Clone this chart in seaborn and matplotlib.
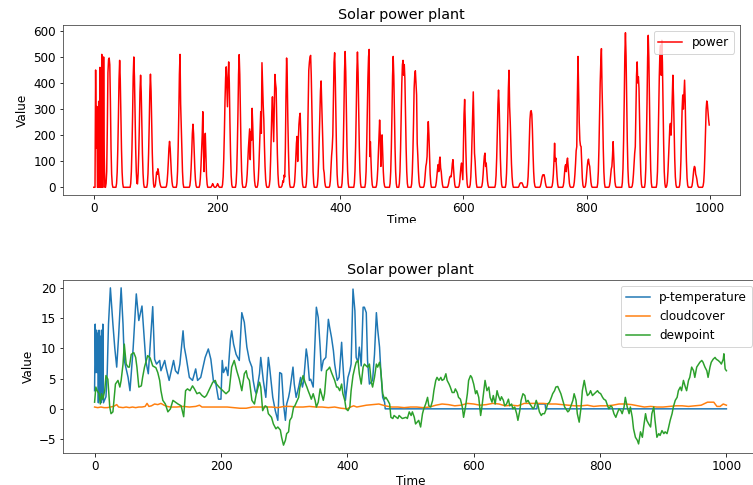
import numpy as np
import pandas as pd
import matplotlib
matplotlib.use("Agg")
import matplotlib.pyplot as plt
from matplotlib.patches import Rectangle
import seaborn as sns

# ---------------- data ----------------
# power: hourly values; each daylight segment = (start hour, values)
hump_start = [0, 20, 37, 60, 71, 87, 99, 118, 135, 156, 172, 191, 199, 209, 231, 247, 266,
              285, 305, 325, 345, 363, 383, 403, 423, 441, 459, 481, 496, 516, 536, 555,
              575, 593, 611, 630, 652, 669, 690, 704, 725, 744, 762, 779, 798, 818, 837,
              858, 874, 895, 914, 930, 951, 971, 989]
hump_values = [
    [0, 0, 0, 450, 150, 310, 0, 0, 330, 0, 460, 0, 0, 510, 0, 0, 500, 120, 0],
    [15, 60, 230, 440, 490, 496, 470, 330, 150, 50, 12],
    [15, 58, 146, 268, 414, 487, 414, 268, 146, 58, 15],
    [15, 60, 150, 275, 425, 500, 425, 275, 150, 60, 15],
    [13, 52, 129, 237, 366, 430, 366, 237, 129, 52, 13],
    [13, 52, 130, 239, 369, 434, 369, 239, 130, 52, 13],
    [2, 9, 35, 58, 50, 71, 60, 39, 21, 9, 2],
    [5, 21, 53, 97, 150, 176, 150, 97, 53, 21, 5],
    [15, 61, 153, 281, 434, 510, 320, 230, 153, 61, 15],
    [7, 29, 73, 133, 206, 242, 206, 133, 73, 29, 7],
    [9, 35, 80, 140, 200, 290, 150, 60, 150, 207, 120, 45, 12],
    [3, 8, 14, 8, 3],
    [3, 8, 14, 8, 3],
    [10, 40, 110, 210, 330, 420, 462, 380, 309, 420, 481, 400, 250, 130, 45, 10],
    [15, 61, 153, 280, 433, 509, 433, 280, 153, 61, 15],
    [5, 20, 50, 100, 150, 190, 224, 106, 214, 180, 303, 240, 150, 70, 25, 6],
    [8, 30, 80, 150, 230, 290, 207, 478, 400, 316, 260, 160, 80, 30, 8],
    [8, 30, 100, 200, 290, 347, 260, 175, 300, 433, 400, 379, 250, 130, 50, 12],
    [3, 10, 25, 20, 47, 40, 150, 350, 496, 420, 260, 140, 50, 12],
    [5, 20, 60, 120, 170, 195, 99, 180, 240, 270, 284, 200, 110, 45, 12],
    [15, 60, 170, 320, 449, 480, 500, 506, 430, 300, 160, 60, 15],
    [10, 40, 100, 190, 290, 370, 408, 320, 245, 150, 70, 55, 20, 5],
    [5, 25, 70, 120, 150, 200, 350, 480, 516, 420, 270, 140, 50, 12],
    [16, 63, 156, 287, 443, 521, 443, 287, 156, 63, 16],
    [16, 62, 156, 285, 441, 519, 441, 285, 156, 62, 16],
    [15, 60, 160, 290, 420, 500, 529, 118, 175, 100, 40, 10],
    [8, 30, 70, 130, 200, 258, 200, 80, 150, 201, 130, 60, 20, 5],
    [15, 60, 151, 276, 427, 502, 427, 276, 151, 60, 15],
    [15, 60, 150, 270, 400, 470, 487, 430, 471, 417, 280, 150, 60, 15],
    [13, 55, 135, 245, 380, 430, 447, 400, 354, 169, 120, 60, 20, 5],
    [5, 20, 50, 80, 93, 118, 200, 252, 200, 120, 50, 15],
    [5, 20, 45, 70, 87, 60, 100, 116, 74, 60, 30, 10],
    [5, 15, 30, 40, 42, 40, 60, 90, 106, 70, 35, 10],
    [5, 20, 50, 80, 93, 60, 29, 150, 280, 337, 250, 140, 60, 15],
    [10, 40, 100, 190, 290, 366, 250, 131, 100, 50, 15],
    [5, 20, 50, 90, 120, 131, 80, 93, 60, 25, 8],
    [11, 45, 112, 205, 317, 373, 317, 205, 112, 45, 11],
    [13, 54, 135, 250, 380, 449, 309, 250, 163, 90, 40, 12],
    [3, 10, 15, 17, 17, 17, 12, 5],
    [10, 40, 100, 180, 260, 290, 294, 280, 220, 130, 60, 20, 5],
    [5, 15, 30, 42, 48, 45, 48, 35, 18, 6],
    [5, 20, 50, 100, 169, 100, 112, 80, 40, 12],
    [5, 20, 50, 80, 87, 60, 100, 112, 80, 45, 15, 4],
    [5, 20, 50, 90, 140, 156, 350, 502, 380, 250, 180, 160, 156, 90, 35, 8],
    [5, 20, 50, 80, 100, 108, 90, 80, 50, 20, 5],
    [15, 60, 150, 270, 400, 480, 532, 385, 280, 150, 60, 15],
    [5, 20, 45, 70, 80, 120, 175, 120, 60, 20, 5],
    [18, 71, 178, 326, 504, 593, 504, 326, 178, 71, 18],
    [5, 20, 50, 90, 130, 156, 300, 430, 481, 400, 424, 380, 250, 130, 50, 12],
    [17, 70, 175, 321, 496, 583, 496, 321, 175, 70, 17],
    [15, 60, 160, 300, 430, 520, 545, 430, 564, 480, 320, 170, 60, 15],
    [5, 20, 60, 120, 190, 230, 245, 200, 258, 350, 430, 350, 220, 110, 40, 10],
    [8, 35, 100, 200, 300, 354, 300, 360, 411, 330, 200, 100, 35, 8],
    [5, 20, 45, 70, 80, 75, 50, 42, 30, 12, 3],
    [5, 20, 60, 130, 220, 300, 331, 320, 290, 260, 239],
]
n_hours = 1000

temperature = [
    (0, 3), (1, 14), (2, 6), (3, 13), (4, 6), (5, 12.5), (6, 1), (7, 13), (8, 2), (9, 12),
    (10, 1), (11, 13), (12, 1.5), (13, 14), (14, 1), (16, 1.5), (18, 2), (20, 6), (22, 14),
    (25, 20), (29, 14), (32, 10), (35, 6.9), (38, 12), (42, 20), (45, 14), (47, 8), (53, 5.2),
    (56, 3), (61, 10), (66, 19), (70, 14.6), (75, 17), (81, 8), (85, 5.8), (92, 16.9), (95, 8.2),
    (98, 7.4), (103, 8), (105, 6.3), (111, 8), (113, 6.9), (118, 4.7), (125, 8), (128, 6.3),
    (132, 5.8), (135, 7.4), (140, 12.9), (142, 10.2), (145, 8.5), (150, 5.2), (155, 4.7),
    (160, 6.6), (163, 4.7), (168, 5.2), (175, 8.5), (180, 9.9), (184, 8.2), (188, 4.7),
    (192, 4.1), (196, 1.6), (200, 1.6), (202, 8), (204, 6), (208, 6.9), (211, 5.5), (215, 11.5),
    (217, 12.9), (220, 10.7), (224, 9), (229, 8), (233, 15.9), (237, 14.3), (241, 10.2),
    (245, 8), (249, 6.9), (251, 4.7), (254, 3), (256, 2.5), (261, 5.8), (263, 8.5), (267, 4.7),
    (271, 1.9), (275, 8.5), (277, 6.9), (282, 1.9), (286, -0.3), (290, -1.9), (293, 6),
    (296, 5.8), (299, 0.8), (302, -1.9), (304, 0.8), (307, 1.9), (309, 3), (314, 6.9),
    (316, 4.1), (319, 1.9), (323, 3.6), (326, 5.2), (329, 3.6), (331, 4.7), (335, 9.9),
    (337, 8.5), (340, 4.7), (342, 4.9), (346, 3.6), (351, 16.8), (354, 15.1), (357, 10.2),
    (359, 6.3), (362, 8), (366, 8.5), (370, 14.8), (372, 13.5), (375, 11.8), (378, 9.6),
    (380, 7.4), (384, 4.7), (387, 5.2), (391, 11), (392, 9), (394, 5.8), (397, 1.4), (401, 5.2),
    (404, 6.3), (406, 7.4), (409, 19.8), (412, 16.2), (414, 8.5), (417, 7.7), (419, 10.2),
    (422, 7.1), (425, 16.8), (427, 16.8), (430, 15.9), (432, 8), (435, 4.1), (440, 4.7),
    (443, 9), (446, 15.9), (448, 13.2), (451, 10.2), (453, 6.3), (456, 1.9), (459, 1.1),
    (460, 0), (700, 0), (701, 0.8), (713, 0.8), (714, 0), (1000, 0),
]

cloudcover = [
    (0, 0.3), (5, 0.2), (10, 0.3), (15, 0.2), (20, 0.2), (25, 0.3), (30, 0.4), (35, 0.7),
    (38, 0.3), (45, 0.2), (50, 0.3), (55, 0.2), (60, 0.3), (65, 0.2), (70, 0.3), (75, 0.3),
    (80, 0.4), (83, 0.9), (86, 0.4), (90, 0.5), (95, 0.8), (100, 0.7), (105, 0.9), (110, 0.6),
    (115, 0.4), (120, 0.3), (130, 0.3), (140, 0.4), (150, 0.3), (160, 0.4), (166, 0.6),
    (170, 0.3), (180, 0.3), (190, 0.3), (200, 0.3), (210, 0.3), (220, 0.2), (230, 0.1),
    (240, 0.1), (250, 0.3), (260, 0.3), (270, 0.3), (280, 0.3), (290, 0.2), (300, 0.4),
    (310, 0.4), (320, 0.3), (330, 0.3), (340, 0.4), (350, 0.3), (360, 0.3), (370, 0.2),
    (380, 0.3), (390, 0.1), (400, 0.0), (405, 0.3), (410, 0.5), (415, 0.3), (420, 0.4),
    (430, 0.6), (440, 0.7), (450, 0.8), (460, 0.5), (470, 0.3), (480, 0.3), (490, 0.2),
    (500, 0.3), (510, 0.3), (520, 0.2), (530, 0.3), (540, 0.6), (550, 0.8), (560, 0.7),
    (570, 0.5), (580, 0.6), (590, 0.9), (600, 0.8), (610, 0.6), (620, 0.7), (630, 0.9),
    (640, 0.8), (650, 0.5), (660, 0.6), (670, 0.5), (680, 0.9), (690, 0.9), (700, 0.9),
    (710, 0.9), (720, 0.8), (730, 0.8), (740, 0.7), (750, 0.6), (760, 0.5), (770, 0.5),
    (780, 0.6), (790, 0.4), (800, 0.5), (810, 0.5), (820, 0.6), (830, 0.8), (840, 0.8),
    (850, 0.7), (860, 0.5), (870, 0.3), (880, 0.4), (890, 0.3), (900, 0.3), (910, 0.4),
    (920, 0.5), (930, 0.5), (940, 0.4), (950, 0.5), (960, 0.6), (970, 1.1), (980, 1.1),
    (985, 0.4), (990, 0.4), (995, 0.8), (1000, 0.6),
]

dewpoint = [
    (0, 1.1), (2, 3.6), (4, 3), (7, 2.5), (9, 0.8), (11, 2.5), (13, 1.6), (16, 3), (18, 5.5),
    (21, 4.9), (24, 0.3), (26, -0.8), (29, -0.5), (33, 4.1), (37, 4.7), (40, 3.6), (42, 4.7),
    (45, 7.4), (47, 10.7), (50, 7.4), (53, 6.9), (55, 6.9), (58, 9), (62, 9.3), (65, 8.5),
    (67, 6.9), (70, 3.6), (74, 3.8), (76, 5.2), (79, 6.9), (82, 8), (84, 8.8), (88, 8.4),
    (92, 7.1), (97, 6.8), (100, 6), (103, 4.7), (105, 3), (108, 1.4), (112, 0.8), (116, -0.5),
    (120, 0), (124, 1.4), (128, 1.1), (132, 0.8), (137, 0.5), (141, -1.3), (144, 3), (147, 3.3),
    (151, 3), (155, 3.8), (158, 3.3), (162, 2.5), (166, 2.7), (170, 2.2), (174, 1.9), (177, 2.2),
    (182, 3.3), (187, 4.4), (191, 4.7), (193, 4.1), (197, 3.6), (203, 3), (208, 2.5), (213, 3),
    (217, 6.9), (221, 8), (225, 6.3), (229, 4.9), (233, 3), (237, 5.8), (240, 6.3), (242, 5.2),
    (245, 4.7), (249, 1.4), (253, 0.8), (256, 2.5), (261, 4.4), (263, 3.6), (266, -0.3),
    (270, 0.5), (273, 0.3), (275, -0.8), (280, -1.4), (283, -2.5), (287, -3.3), (290, -3),
    (294, -3.5), (296, -4.7), (299, -6), (302, -5.2), (304, -4.1), (307, -3.8), (309, -1.9),
    (312, -1.4), (315, 0.3), (317, 0.5), (323, 1.9), (325, 3.6), (328, 4.7), (330, 5.5),
    (333, 4.4), (336, 3.6), (338, 3), (341, 2.2), (343, 1.6), (346, 2.5), (349, 1.4), (351, 0.3),
    (354, 1.1), (357, 3.3), (359, 2.5), (362, 1.4), (364, 2.5), (367, 6.3), (370, 6.6),
    (372, 6.9), (375, 6), (378, 5.2), (380, 4.7), (383, 3.6), (385, 3.6), (388, 3), (391, 4.1),
    (393, 2.5), (396, 1.4), (398, 0), (401, -0.3), (404, 0.3), (406, 3), (409, 5.5), (412, 6.9),
    (414, 7.7), (417, 8), (419, 5.8), (422, 4.1), (425, 6.9), (427, 7.4), (430, 7.1), (432, 6.9),
    (435, 7.4), (438, 4.4), (440, 3.6), (443, 5.2), (446, 7.4), (448, 6.9), (451, 7.7),
    (453, 6.3), (456, 2.5), (459, 1.6), (461, 1.9), (464, 1.4), (467, 0.8), (469, -1.4),
    (472, -1.6), (474, -1.1), (480, -1.6), (482, -1.1), (485, -1.4), (487, -1.6), (493, -1.4),
    (495, -1.6), (498, -0.5), (501, -1.1), (503, -0.5), (506, -1.4), (508, -2.5), (513, -1.9),
    (516, -3), (519, -0.8), (521, 0), (524, 0.8), (527, 1.9), (529, 0.5), (532, 0.3), (535, 1.4),
    (537, 3), (540, 4.7), (542, 5.2), (545, 4.7), (548, 5.2), (550, 4.7), (553, 4.9), (556, 5.8),
    (558, 4.7), (561, 4.1), (563, 3.6), (566, 2.7), (569, 2.7), (571, 3.3), (574, 2.7),
    (576, 1.9), (579, 1.6), (582, 0.3), (584, -1.4), (587, 0.3), (590, 2.5), (592, 4.7),
    (595, 5.5), (597, 5.2), (600, 4.1), (603, 2.5), (605, 3), (608, 1.9), (611, -1.1),
    (613, 0.3), (616, 3), (618, 4.7), (621, 3), (624, 3.6), (626, 1.9), (629, 1.1), (631, 2.2),
    (634, 0.8), (637, 3), (639, 2.2), (642, 1.4), (644, 2), (647, 1.4), (649, 0.5), (652, 0.8),
    (655, 1.6), (657, 0.5), (660, 0.8), (662, 0), (665, 0.3), (668, -0.8), (670, -1.9),
    (673, -0.3), (675, 1.4), (678, 2.5), (681, 2.2), (683, 1.1), (686, 1.4), (689, 0.8),
    (691, 0.5), (694, 0), (696, 0.3), (699, 1.4), (702, 0.5), (704, -0.5), (707, -1.1),
    (709, -0.8), (712, -0.8), (715, 0), (717, 0.8), (720, 1.1), (723, 1.9), (725, 2.5), (728, 3),
    (730, 3.6), (733, 3.7), (736, 3), (738, 2.5), (741, 1.4), (744, 0.3), (746, 0), (749, -0.5),
    (751, -0.3), (754, 0.5), (757, 1.4), (759, 2.5), (762, 1.4), (764, -0.8), (767, -2.2),
    (770, 0.3), (772, 3), (775, 4.7), (778, 3), (780, 2.2), (783, 2.5), (785, 3), (788, 2.2),
    (791, 2.5), (793, 2.7), (796, 3), (798, 2.7), (801, 2.5), (804, 1.9), (806, 1.6), (809, 1.4),
    (812, 0.5), (814, 0), (817, 0.5), (819, 0.3), (822, -0.8), (825, -1.4), (827, -0.8), (830, 0),
    (833, -0.3), (835, -0.8), (838, 0.3), (840, 1.9), (843, 0.3), (846, -0.8), (848, 0.3),
    (851, -1.4), (853, -3.3), (856, -4.7), (859, -5.2), (861, -5.8), (864, -3.8), (867, -4.7),
    (869, -3), (872, -0.8), (874, -1.9), (877, -2.5), (880, -3), (882, -0.8), (885, 0.3),
    (887, -1.9), (890, -4.7), (893, -4.1), (895, -4.4), (898, -3.6), (901, -4.1), (903, -3.8),
    (906, -4.1), (908, -3.3), (911, -1.9), (914, -0.8), (916, 0.3), (919, 1.4), (922, 1.9),
    (924, 3), (927, 3.6), (929, 3), (932, 4.7), (935, 3.6), (937, 3), (940, 4.7), (942, 5.2),
    (945, 6.9), (948, 6.3), (950, 5.2), (953, 6.9), (956, 7.4), (958, 7.7), (961, 8), (963, 7.7),
    (966, 6.9), (969, 6.3), (971, 5.2), (974, 6.9), (976, 7.7), (979, 8.2), (982, 8.5),
    (984, 8.2), (987, 8), (990, 7.7), (992, 7.4), (995, 8.2), (996, 9.1), (998, 6.6), (1000, 6.3),
]

title = "Solar power plant"

# ---------------- build tables ----------------
power = np.zeros(n_hours)
for s, vals in zip(hump_start, hump_values):
    power[s:s + len(vals)] = vals
df_power = pd.DataFrame({"Time": np.arange(n_hours), "power": power})


def to_df(points):
    t, v = zip(*points)
    return pd.DataFrame({"Time": t, "Value": v})


df_temp = to_df(temperature)
df_cloud = to_df(cloudcover)
df_dew = to_df(dewpoint)

# ---------------- figure ----------------
plt.rcParams["font.family"] = ["DejaVu Sans"]
plt.rcParams["font.size"] = 12

W, H = 753, 485
fig = plt.figure(figsize=(W / 72, H / 72), dpi=72)
fig.patch.set_facecolor("white")

ax1 = fig.add_axes([63 / W, 1 - 195 / H, 677 / W, 170 / H])
ax2 = fig.add_axes([63 / W, 1 - 453 / H, 695 / W, 173 / H])

sns.lineplot(data=df_power, x="Time", y="power", ax=ax1, color="red",
             label="power", estimator=None, sort=False, linewidth=1.5)
ax1.set_title(title, fontsize=14.4)
ax1.set_xlabel("Time", labelpad=-1)
ax1.set_ylabel("Value")
ax1.set_yticks([0, 100, 200, 300, 400, 500, 600])
ax1.set_xticks([0, 200, 400, 600, 800, 1000])
ax1.legend(loc="upper right")

sns.lineplot(data=df_temp, x="Time", y="Value", ax=ax2, color="#1f77b4",
             label="p-temperature", estimator=None, sort=False, linewidth=1.5)
sns.lineplot(data=df_cloud, x="Time", y="Value", ax=ax2, color="#ff7f0e",
             label="cloudcover", estimator=None, sort=False, linewidth=1.5)
sns.lineplot(data=df_dew, x="Time", y="Value", ax=ax2, color="#2ca02c",
             label="dewpoint", estimator=None, sort=False, linewidth=1.5)
ax2.set_title(title, fontsize=14.4)
ax2.set_xlabel("Time", labelpad=2)
ax2.set_ylabel("Value")
ax2.set_xticks([0, 200, 400, 600, 800, 1000])
ax2.set_yticks([-5, 0, 5, 10, 15, 20])
ax2.legend(loc="upper right")

for ax in (ax1, ax2):
    ax.grid(False)
    for sp in ax.spines.values():
        sp.set_color("#444444")

# the lower part of the upper "Time" label is hidden in the reference
fig.patches.append(Rectangle((0, 1 - 259 / H), 1, 36 / H, transform=fig.transFigure,
                             facecolor="white", edgecolor="none", zorder=10))

fig.savefig("out.png", dpi=72, facecolor="white")
